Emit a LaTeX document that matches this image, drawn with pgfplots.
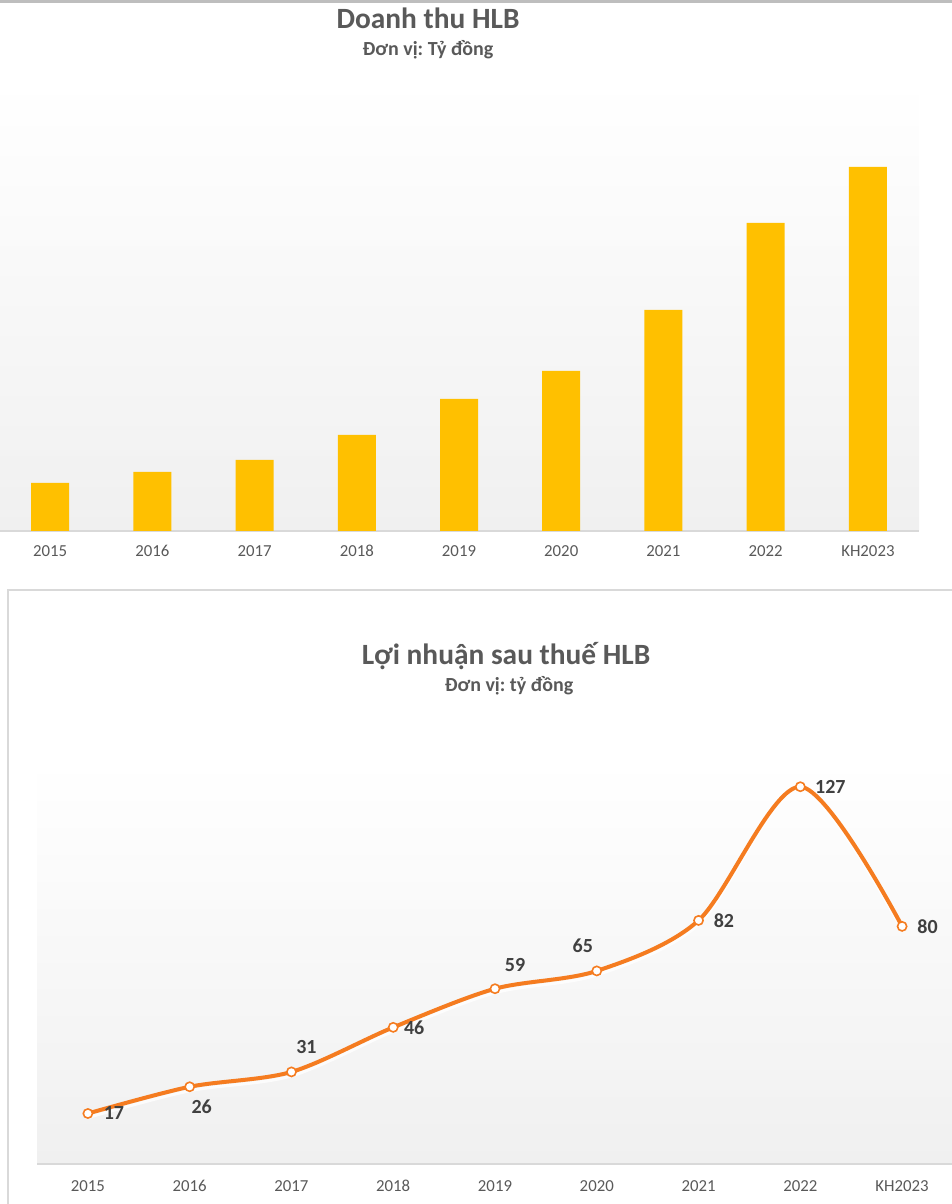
\documentclass[border=0pt]{standalone}
\usepackage{pgfplots}
\pgfplotsset{compat=1.18}
\usepackage{pgfplotstable}
\usepackage{fontspec}
\setmainfont{Carlito}
\frenchspacing

\definecolor{gold}{RGB}{255,192,0}
\definecolor{hlorange}{RGB}{245,124,32}
\definecolor{txtgray}{RGB}{89,89,89}
\definecolor{lblgray}{RGB}{64,64,64}
\definecolor{linegray}{RGB}{217,217,217}
\definecolor{topgray}{RGB}{190,190,190}
\definecolor{bggray}{RGB}{240,240,240}

% doanh thu (relative bar heights)
\pgfplotstableread{
x rev
0 48
1 59
2 71
3 96
4 132
5 160
6 221
7 308
8 364
}\revtable

% loi nhuan sau thue; dx dy = label offset in pt
\pgfplotstableread{
x y dx dy
0 17 13 0
1 26 6 -10
2 31 7.5 12.5
3 46 10.5 0
4 59 10 12
5 65 -7 12.5
6 82 12.7 0
7 127 15 0
8 80 12.7 0
}\proftable

\pgfplotsset{
  hlbase/.style={
    scale only axis,
    anchor=south west,
    xmin=-0.5, xmax=8.5,
    ymin=0,
    axis y line=none,
    axis x line*=bottom,
    x axis line style={linegray, line width=0.75pt, -},
    xtick={0,...,8},
    xticklabels={2015,2016,2017,2018,2019,2020,2021,2022,KH2023},
    major tick length=0pt,
    xticklabel style={font=\fontsize{8.4}{10}\selectfont, text=txtgray, anchor=center, inner sep=0pt},
    axis background/.style={shade, top color=white, bottom color=bggray},
  }
}

\begin{document}
\begin{tikzpicture}
\path[use as bounding box] (0,0) rectangle (476pt,602pt);
\clip (0,0) rectangle (476pt,602pt);
\fill[topgray] (0,600.5pt) rectangle (476pt,602pt);

% ---- Doanh thu ----
\begin{axis}[hlbase,
  at={(-0.5pt,336.5pt)},
  width=460pt, height=225.5pt,
  ymax=451,
  ybar, bar width=19pt,
  xticklabel style={yshift=-10pt},
]
\addplot[fill=gold, draw=none] table[x=x, y=rev] {\revtable};
\end{axis}
\node[anchor=base, text=txtgray, font=\fontsize{14.7}{18}\selectfont\bfseries] at (214pt,587.5pt) {Doanh thu HLB};
\node[anchor=base, text=txtgray, font=\fontsize{10}{12}\selectfont\bfseries] at (214pt,574pt) {Đơn vị: Tỷ đồng};

% ---- Loi nhuan ----
\draw[linegray, line width=0.75pt] (4pt,-5pt) -- (4pt,307pt) -- (480pt,307pt);
\begin{axis}[hlbase,
  at={(18.5pt,20pt)},
  width=458pt, height=202pt,
  ymax=136,
  clip=false,
  xticklabel style={yshift=-11pt},
]
\addplot[white, opacity=0.8, line width=1.5pt, smooth, yshift=-2pt] table[x=x, y=y] {\proftable};
\addplot[hlorange, line width=2pt, smooth,
  mark=*, mark size=2.3pt,
  mark options={fill=white, draw=hlorange, line width=0.8pt},
  visualization depends on={\thisrow{dx} \as \dx},
  visualization depends on={\thisrow{dy} \as \dy},
  nodes near coords={\pgfmathprintnumber[assume math mode=true]{\pgfplotspointmeta}},
  every node near coord/.append style={anchor=center, inner sep=0pt,
    xshift=\dx pt, yshift=\dy pt, text=lblgray,
    font=\fontsize{10}{12}\selectfont\bfseries},
] table[x=x, y=y] {\proftable};
\end{axis}
\node[anchor=base, text=txtgray, font=\fontsize{14.7}{18}\selectfont\bfseries] at (253pt,269.5pt) {Lợi nhuận sau thuế HLB};
\node[anchor=base, text=txtgray, font=\fontsize{10}{12}\selectfont\bfseries] at (254.5pt,256pt) {Đơn vị: tỷ đồng};
\end{tikzpicture}
\end{document}
